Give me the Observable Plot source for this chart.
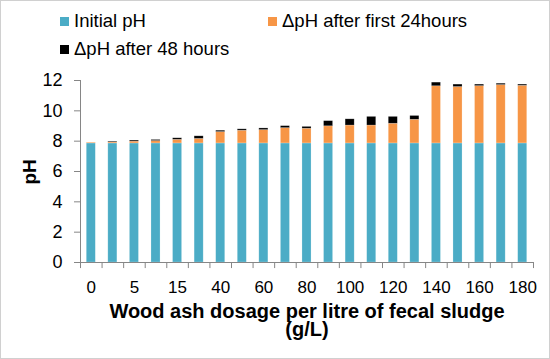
<!DOCTYPE html>
<html>
<head>
<meta charset="utf-8">
<script src="https://cdn.jsdelivr.net/npm/d3@7"></script>
<script src="https://cdn.jsdelivr.net/npm/@observablehq/plot@0.6"></script>
<style>
  html, body { margin: 0; padding: 0; background: #fff; }
  #chart { position: relative; width: 550px; height: 359px; box-sizing: border-box; border: 1px solid #d0d0d0; background: #fff; font-family: "Liberation Sans", Arial, sans-serif; overflow: hidden; }
  #legend { position: relative; height: 61px; font-size: 18.5px; color: #000; }
  .item { position: absolute; display: flex; align-items: center; white-space: nowrap; height: 20px; }
  .sw { width: 9px; height: 9px; margin-right: 5px; }
</style>
</head>
<body>
<div id="chart">
  <div id="legend"></div>
</div>
<script>
// Categories (wood ash dosage, g/L)
const doses = ["0","2.5","5","10","15","20","40","50","60","70","80","90","100","110","120","130","140","150","160","170","180"];
// Series values (pH)
const initialPH = [7.85,7.85,7.85,7.85,7.85,7.85,7.85,7.85,7.85,7.85,7.85,7.85,7.85,7.85,7.85,7.85,7.85,7.85,7.85,7.85,7.85];
const delta24 = [0.05,0.07,0.12,0.16,0.24,0.30,0.75,0.84,0.88,1.01,0.97,1.13,1.18,1.18,1.30,1.56,3.77,3.72,3.78,3.85,3.80];
const delta48 = [0,0.05,0.07,0.07,0.10,0.17,0.09,0.09,0.11,0.13,0.12,0.34,0.41,0.57,0.45,0.25,0.24,0.16,0.10,0.09,0.08];
const seriesNames = ["Initial pH", "\u0394pH after first 24hours", "\u0394pH after 48 hours"];
const seriesColors = ["#4BACC6", "#F79646", "#000000"];
// Tick labels
const yTicks = [0,2,4,6,8,10,12];
const xTickLabels = doses.filter((d, i) => i % 2 === 0);

const rows = [];
const cols = [initialPH, delta24, delta48];
doses.forEach((d, i) => {
  cols.forEach((c, s) => rows.push({dose: d, series: seriesNames[s], value: c[i]}));
});

// Legend (HTML, above the SVG)
const legendPos = [[59, 10], [267, 10], [59, 38]];
const legend = document.getElementById("legend");
seriesNames.forEach((n, i) => {
  const it = document.createElement("div");
  it.className = "item";
  it.style.left = legendPos[i][0] + "px";
  it.style.top = legendPos[i][1] + "px";
  const sw = document.createElement("span");
  sw.className = "sw";
  sw.style.background = seriesColors[i];
  const tx = document.createElement("span");
  tx.textContent = n;
  it.appendChild(sw); it.appendChild(tx);
  legend.appendChild(it);
});

const W = 548, H = 296;
const mL = 79, mR = 16, mT = 18, mB = 96;
const step = (W - mL - mR) / doses.length;
const axisGray = "#868686";

const chart = Plot.plot({
  width: W,
  height: H,
  marginLeft: mL,
  marginRight: mR,
  marginTop: mT,
  marginBottom: mB,
  style: {fontFamily: "Liberation Sans, Arial, sans-serif", fontSize: "17px", color: "#000", background: "#fff"},
  x: {type: "band", domain: doses, paddingInner: 0.58, paddingOuter: 0.29, round: false, label: null},
  y: {domain: [0, 12], label: null},
  color: {domain: seriesNames, range: seriesColors},
  marks: [
    Plot.barY(rows, {x: "dose", y: "value", fill: "series", stroke: "#ffffff", strokeOpacity: 0.35, strokeWidth: 0.6}),
    Plot.ruleY([0], {stroke: axisGray}),
    Plot.ruleX([doses[0]], {y1: 0, y2: 12, dx: -step / 2, stroke: axisGray}),
    Plot.ruleX(doses, {x: d => d, y1: 0, y2: -0.4, dx: -step / 2, stroke: axisGray}),
    Plot.ruleX([doses[doses.length - 1]], {y1: 0, y2: -0.4, dx: step / 2, stroke: axisGray}),
    Plot.axisY({ticks: yTicks, tickSize: 6, tickPadding: 12, stroke: axisGray, fill: "#000", label: null, fontSize: 18}),
    Plot.axisX({ticks: xTickLabels, tickSize: 0, tickPadding: 18, fill: "#000", label: null, fontSize: 17}),
    Plot.text(["pH"], {frameAnchor: "left", dx: -51, dy: 13, rotate: -90, fontWeight: "bold", fontSize: 19, fill: "#000"}),
    Plot.text(["Wood ash dosage per litre of fecal sludge\n(g/L)"], {frameAnchor: "bottom", dy: 59, lineAnchor: "middle", lineHeight: 0.88, fontWeight: "bold", fontSize: 20, fill: "#000"})
  ]
});
document.getElementById("chart").appendChild(chart);
</script>
</body>
</html>
